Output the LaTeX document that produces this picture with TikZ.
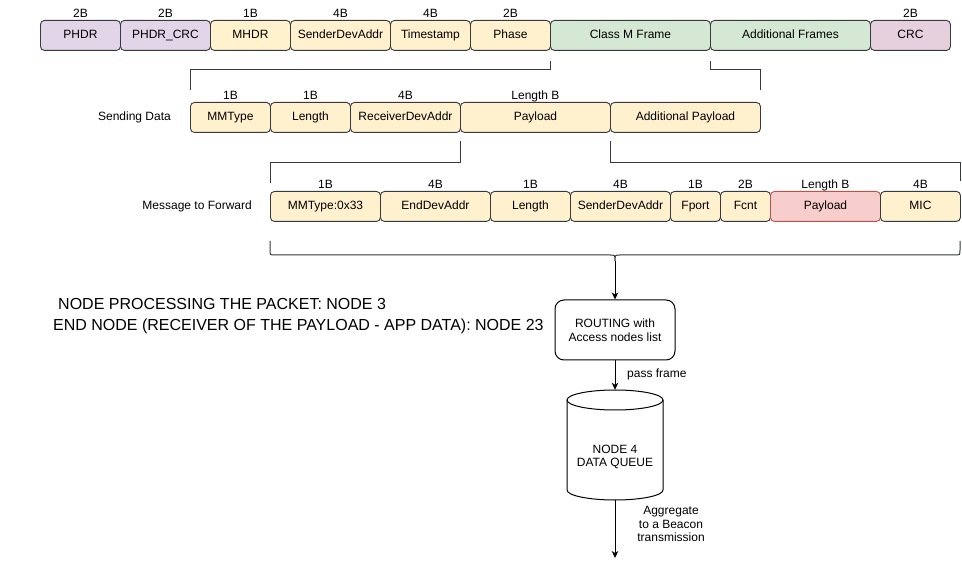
\documentclass[tikz,border=0pt]{standalone}
\usepackage{fontspec}
\setmainfont{Liberation Sans}
\usetikzlibrary{arrows.meta}
\definecolor{purp}{HTML}{E1D5E7}
\definecolor{crcc}{HTML}{E6D0DE}
\definecolor{yel}{HTML}{FFF2CC}
\definecolor{peach}{HTML}{FFF0CE}
\definecolor{grn}{HTML}{D5E8D4}
\definecolor{pinkf}{HTML}{F8CECC}
\definecolor{pinkd}{HTML}{B85450}
\definecolor{strk}{HTML}{36393D}
\begin{document}
\begin{tikzpicture}[x=1pt,y=-1pt,
  box/.style={draw=strk, line width=0.9pt, rounded corners=4pt, minimum height=30pt, inner sep=0pt, text height=8.8pt, text depth=2.6pt, anchor=north west, font=\fontsize{12}{14}\selectfont},
  lbl/.style={anchor=base, inner sep=0pt, yshift=2pt, font=\fontsize{12}{14}\selectfont},
  txt/.style={inner sep=0pt, font=\fontsize{12}{14}\selectfont},
  brk/.style={draw=strk, line width=1pt},
  arr/.style={draw=black, line width=1pt, -{Stealth[length=7pt,width=6.5pt,inset=2pt]}}
]
\useasboundingbox (0,0) rectangle (962,569);

% ---- row 1
\node[box, fill=purp, minimum width=80pt] (phdr) at (40,20) {PHDR};
\node[box, fill=purp, minimum width=90pt] (phdrcrc) at (120,20) {PHDR\_CRC};
\node[box, fill=yel, minimum width=80pt] (mhdr) at (210,20) {MHDR};
\node[box, fill=peach, minimum width=100pt] (sender) at (290,20) {SenderDevAddr};
\node[box, fill=peach, minimum width=80pt] (timestamp) at (390,20) {Timestamp};
\node[box, fill=peach, minimum width=80pt] (phase) at (470,20) {Phase};
\node[box, fill=grn, minimum width=160pt] (classm) at (550,20) {Class M Frame};
\node[box, fill=grn, minimum width=160pt] (addfr) at (710,20) {Additional Frames};
\node[box, fill=crcc, minimum width=80pt] (crc) at (870,20) {CRC};
\node[lbl] (phdrL) at (phdr.north) {2B};
\node[lbl] (phdrcrcL) at (phdrcrc.north) {2B};
\node[lbl] (mhdrL) at (mhdr.north) {1B};
\node[lbl] (senderL) at (sender.north) {4B};
\node[lbl] (timestampL) at (timestamp.north) {4B};
\node[lbl] (phaseL) at (phase.north) {2B};
\node[lbl] (crcL) at (crc.north) {2B};

% ---- row 2
\node[box, fill=peach, minimum width=80pt] (mmtype) at (190,102) {MMType};
\node[box, fill=peach, minimum width=80pt] (lenA) at (270,102) {Length};
\node[box, fill=peach, minimum width=110pt] (recv) at (350,102) {ReceiverDevAddr};
\node[box, fill=peach, minimum width=150pt] (payA) at (460,102) {Payload};
\node[box, fill=peach, minimum width=150pt] (addpay) at (610,102) {Additional Payload};
\node[lbl] (mmtypeL) at (mmtype.north) {1B};
\node[lbl] (lenAL) at (lenA.north) {1B};
\node[lbl] (recvL) at (recv.north) {4B};
\node[lbl] (payAL) at (payA.north) {Length B};
\node[txt, anchor=east] (sendingdata) at (171,117) {Sending Data};

% ---- row 3
\node[box, fill=peach, minimum width=110pt] (mm33) at (270,191) {MMType:0x33};
\node[box, fill=peach, minimum width=110pt] (enddev) at (380,191) {EndDevAddr};
\node[box, fill=peach, minimum width=80pt] (lenB) at (490,191) {Length};
\node[box, fill=peach, minimum width=100pt] (senderB) at (570,191) {SenderDevAddr};
\node[box, fill=peach, minimum width=50pt] (fport) at (670,191) {Fport};
\node[box, fill=peach, minimum width=50pt] (fcnt) at (720,191) {Fcnt};
\node[box, fill=pinkf, draw=pinkd, minimum width=110pt] (payB) at (770,191) {Payload};
\node[box, fill=peach, minimum width=80pt] (mic) at (880,191) {MIC};
\node[lbl] (mm33L) at (mm33.north) {1B};
\node[lbl] (enddevL) at (enddev.north) {4B};
\node[lbl] (lenBL) at (lenB.north) {1B};
\node[lbl] (senderBL) at (senderB.north) {4B};
\node[lbl] (fportL) at (fport.north) {1B};
\node[lbl] (fcntL) at (fcnt.north) {2B};
\node[lbl] (payBL) at (payB.north) {Length B};
\node[lbl] (micL) at (mic.north) {4B};
\node[txt, anchor=east] (msgfwd) at (252,206) {Message to Forward};

% ---- brackets
\coordinate (h1) at (0,70);
\coordinate (h2) at (0,163);
\draw[brk] ([yshift=-10pt]phase.south east) -- (phase.south east |- h1) -- (mmtype.north west |- h1) -- ([yshift=12pt]mmtype.north west);
\draw[brk] ([yshift=-10pt]addfr.south west) -- (addfr.south west |- h1) -- (addpay.north east |- h1) -- ([yshift=12pt]addpay.north east);
\draw[brk] ([yshift=-8pt]payA.south west) -- (payA.south west |- h2) -- (mm33.north west |- h2) -- ([yshift=8pt]mm33.north west);
\draw[brk] ([yshift=-8pt]payA.south east) -- (payA.south east |- h2) -- (mic.north east |- h2) -- ([yshift=10pt]mic.north east);

% ---- brace
\draw[brk] (270,241) -- (270,250) .. controls (270,255) .. (275,255) -- (610,255) .. controls (615,255) .. (615,261) .. controls (615,255) .. (620,255) -- (955,255) .. controls (960,255) .. (960,250) -- (960,241);
\coordinate (btip) at (615,261);

% ---- left notes
\node[inner sep=0pt, anchor=west, font=\fontsize{16}{19}\selectfont] (proc) at (58,304) {NODE PROCESSING THE PACKET: NODE 3};
\node[inner sep=0pt, anchor=west, font=\fontsize{16}{19}\selectfont] (endn) at (53,326) {END NODE (RECEIVER OF THE PAYLOAD - APP DATA): NODE 23};

% ---- routing and queue
\node[draw=black, line width=1pt, rounded corners=9pt, fill=white, minimum width=120pt, minimum height=60pt, align=center, font=\fontsize{12}{13.5}\selectfont] (routing) at (615,330) {ROUTING with\\Access nodes list};
\draw[arr] (btip) -- (routing.north);

\node[minimum width=96pt, minimum height=110pt, inner sep=0pt] (queue) at (615,445) {};
\draw[line width=1pt, fill=white] (567,400) -- (567,490) arc[start angle=180, end angle=360, x radius=48pt, y radius=10pt] -- (663,400);
\draw[line width=1pt, fill=white] (615,400) ellipse[x radius=48pt, y radius=10pt];
\node[txt, align=center, font=\fontsize{12}{13.5}\selectfont] (queuetxt) at (615,457) {NODE 4\\DATA QUEUE};

\draw[arr] (routing.south) -- (queue.north);
\node[txt, anchor=west] (passframe) at (627,374) {pass frame};

\coordinate (qout) at (615,558);
\draw[arr] (queue.south) -- (qout);
\node[txt, align=center, font=\fontsize{12}{13.5}\selectfont] (agg) at (671,524) {Aggregate\\to a Beacon\\transmission};
\end{tikzpicture}
\end{document}
